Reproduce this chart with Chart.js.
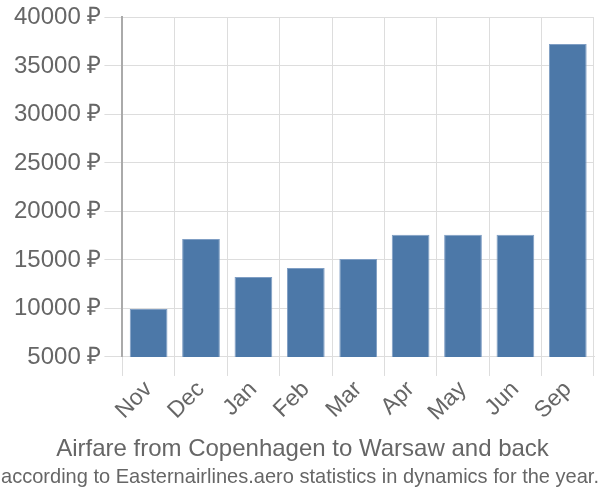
<!DOCTYPE html>
<html>
<head>
<meta charset="utf-8">
<script src="https://cdn.jsdelivr.net/npm/chart.js@4/dist/chart.umd.min.js"></script>
<style>
html,body{margin:0;padding:0;background:#fff;}
#wrap{width:600px;height:500px;}
</style>
</head>
<body>
<div id="wrap"><canvas id="c" width="600" height="500"></canvas></div>
<script>
const months = ["Nov","Dec","Jan","Feb","Mar","Apr","May","Jun","Sep"];
const prices = [9950,17150,13250,14180,15100,17600,17600,17600,37250];
const yTicks = [5000,10000,15000,20000,25000,30000,35000,40000];
const currency = "₽";
const titleText = "Airfare from Copenhagen to Warsaw and back";
const subtitleText = "according to Easternairlines.aero statistics in dynamics for the year.";

// draws the subtitle fitted to the canvas width (condensed), as real canvas text
const fittedSubtitle = {
  id: 'fittedSubtitle',
  afterDraw(chart) {
    const ctx = chart.ctx;
    ctx.save();
    ctx.font = 'normal 21px "Liberation Sans"';
    ctx.fillStyle = '#666';
    ctx.textBaseline = 'middle';
    ctx.textAlign = 'center';
    const w = ctx.measureText(subtitleText).width;
    const target = 598;
    ctx.translate(chart.width / 2, 477);
    ctx.scale(target / w, 1);
    ctx.fillText(subtitleText, 0, 0);
    ctx.restore();
  }
};

new Chart(document.getElementById('c'), {
  type: 'bar',
  data: {
    labels: months,
    datasets: [{
      data: prices,
      backgroundColor: '#4c78a8',
      borderColor: '#7f9ec4',
      borderWidth: 1,
      barPercentage: 0.72,
      categoryPercentage: 1
    }]
  },
  plugins: [fittedSubtitle],
  options: {
    responsive: false,
    animation: false,
    layout: {padding: {top: 1, right: 6, left: 11, bottom: 34}},
    plugins: {
      legend: {display: false},
      tooltip: {enabled: false},
      title: {
        display: true, text: titleText, position: 'bottom',
        color: '#666', font: {family: 'Liberation Sans', size: 24, weight: 'normal'},
        padding: {top: 9, bottom: 2}
      }
    },
    scales: {
      x: {
        grid: {color: '#dddddd', tickLength: 19, offset: true},
        border: {color: '#dddddd'},
        ticks: {color: '#666', font: {family: 'Liberation Sans', size: 23}, maxRotation: 45, minRotation: 45, padding: 0}
      },
      y: {
        min: yTicks[0], max: yTicks[yTicks.length-1],
        afterBuildTicks: (axis) => { axis.ticks = yTicks.map(v => ({value: v})); },
        grid: {color: '#dddddd', tickLength: 18},
        border: {color: '#aaaaaa', width: 2},
        ticks: {color: '#666', font: {family: 'Liberation Sans', size: 24}, padding: 3,
          callback: (v) => v + ' ' + currency}
      }
    }
  }
});
</script>
</body>
</html>
